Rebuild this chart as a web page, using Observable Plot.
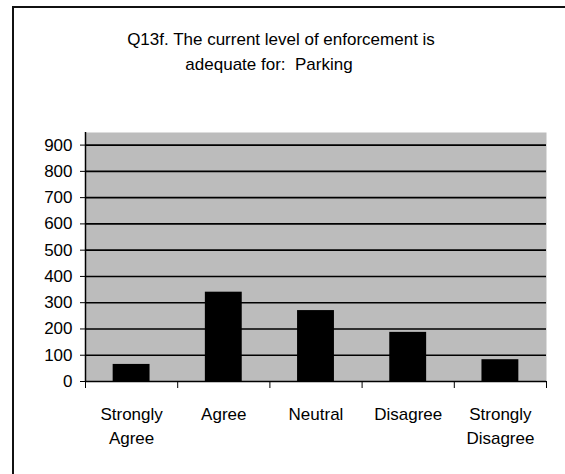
<!DOCTYPE html>
<html>
<head>
<meta charset="utf-8">
<script src="https://cdn.jsdelivr.net/npm/d3@7"></script>
<script src="https://cdn.jsdelivr.net/npm/@observablehq/plot@0.6"></script>
<style>
  html, body { margin: 0; padding: 0; background: #fff; }
  #wrap { position: relative; width: 565px; height: 474px; overflow: hidden; }
  #border { position: absolute; left: 12px; top: 6px; width: 600px; height: 500px;
            border-left: 2px solid #111; border-top: 2px solid #111; pointer-events: none; }
</style>
</head>
<body>
<div id="wrap"><div id="border"></div></div>
<script>
const titleLines = ["Q13f. The current level of enforcement is", "adequate for:  Parking"];
const categories = ["Strongly\nAgree", "Agree", "Neutral", "Disagree", "Strongly\nDisagree"];
const counts = [65, 340, 270, 187, 83];
const yTicks = [0, 100, 200, 300, 400, 500, 600, 700, 800, 900];

const data = categories.map((c, i) => ({i, label: c, value: counts[i]}));
const font = "'Liberation Sans', Arial, sans-serif";

const chart = Plot.plot({
  width: 565,
  height: 474,
  marginLeft: 85,
  marginRight: 19,
  marginTop: 132,
  marginBottom: 93,
  style: {fontFamily: font, fontSize: "17px", color: "#000", background: "transparent"},
  x: {type: "linear", domain: [0, categories.length], axis: null},
  y: {domain: [0, 948], axis: null},
  marks: [
    Plot.frame({fill: "#bcbcbc", stroke: null}),
    Plot.gridY(yTicks.filter(d => d > 0), {stroke: "#000", strokeOpacity: 1, strokeWidth: 1.6}),
    Plot.rectY(data, {x1: d => d.i + 0.3, x2: d => d.i + 0.7, y: "value", fill: "#000"}),
    Plot.ruleY([0], {stroke: "#000", strokeWidth: 1.5}),
    Plot.ruleX([0], {stroke: "#000", strokeWidth: 1.5}),
    Plot.axisY({ticks: yTicks, label: null, tickSize: 5, tickPadding: 8, tickFormat: d => String(d), fontSize: 17, stroke: "#000"}),
    Plot.axisX({ticks: d3.range(0, categories.length + 1), label: null, tickSize: 7, tickFormat: () => "", stroke: "#000"}),
    Plot.text(data, {x: d => d.i + 0.5, y: 0, text: "label", lineAnchor: "top", dy: 22, lineHeight: 1.4, fontSize: 17, fill: "#000"}),
    Plot.text([titleLines[0]], {frameAnchor: "top", dx: -35, dy: -100, fontSize: 17, fill: "#000", lineAnchor: "top"}),
    Plot.text([titleLines[1]], {frameAnchor: "top", dx: -47, dy: -75, fontSize: 17, fill: "#000", lineAnchor: "top"})
  ]
});
document.getElementById("wrap").prepend(chart);
</script>
</body>
</html>
